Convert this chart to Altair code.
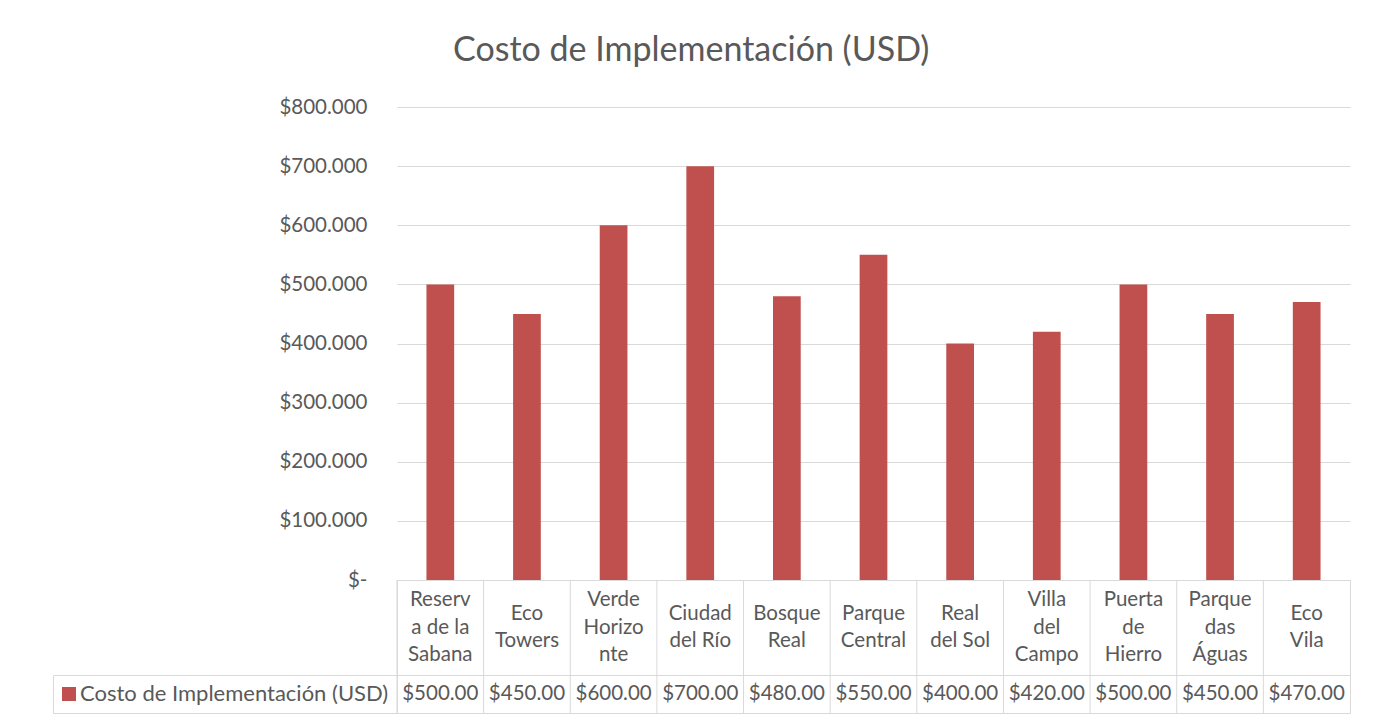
import altair as alt
import pandas as pd

# ---- data ----
categories = [
    "Reserva de la Sabana", "Eco Towers", "Verde Horizonte", "Ciudad del Río",
    "Bosque Real", "Parque Central", "Real del Sol", "Villa del Campo",
    "Puerta de Hierro", "Parque das Águas", "Eco Vila",
]
header_lines = [
    "Reserv\na de la\nSabana", "Eco\nTowers", "Verde\nHorizo\nnte", "Ciudad\ndel Río",
    "Bosque\nReal", "Parque\nCentral", "Real\ndel Sol", "Villa\ndel\nCampo",
    "Puerta\nde\nHierro", "Parque\ndas\nÁguas", "Eco\nVila",
]
values = [500000, 450000, 600000, 700000, 480000, 550000, 400000, 420000, 500000, 450000, 470000]
series_name = "Costo de Implementación (USD)"
y_ticks = [0, 100000, 200000, 300000, 400000, 500000, 600000, 700000, 800000]

table_labels = ["$%d.00" % (v // 1000) for v in values]

df = pd.DataFrame({
    "cat": categories,
    "header": header_lines,
    "value": values,
    "vlabel": table_labels,
    "serie": [series_name] * len(categories),
})

FONT = "Lato"
TXT = "#595959"
GRID = "#D9D9D9"
BAR = "#C0504D"
W = 953
LH = 27.5

xscale = alt.Scale(domain=categories, paddingInner=0, paddingOuter=0)


def xenc(**kw):
    return alt.X("cat:N", sort=categories, scale=xscale, axis=None, **kw)


base = alt.Chart(df)

bars = base.mark_bar(color=BAR, width=alt.RelativeBandSize(0.32)).encode(
    x=xenc(),
    y=alt.Y(
        "value:Q",
        scale=alt.Scale(domain=[0, 800000], nice=False),
        axis=alt.Axis(
            values=y_ticks,
            title=None,
            domain=False,
            ticks=False,
            tickSize=0,
            labelPadding=30,
            labelFont=FONT,
            labelFontSize=20.5,
            labelColor=TXT,
            gridColor=GRID,
            gridWidth=1,
            labelExpr="datum.value == 0 ? '$-' : '$' + format(datum.value / 1000, 'd') + '.000'",
        ),
    ),
).properties(width=W, height=473)

view_box = alt.ViewBackground(stroke=GRID, strokeWidth=1)

head_base = base.transform_calculate(nlines="length(split(datum.header, '\\n'))")
head_rules = base.mark_rule(color=GRID, strokeWidth=1).encode(x=xenc(bandPosition=0))
text_style = dict(lineBreak="\n", font=FONT, fontSize=20.5, lineHeight=LH, color=TXT, baseline="middle")
head_text3 = head_base.transform_filter("datum.nlines == 3").mark_text(
    dy=-LH, **text_style
).encode(x=xenc(), text="header:N")
head_text2 = head_base.transform_filter("datum.nlines == 2").mark_text(
    dy=-LH / 2, **text_style
).encode(x=xenc(), text="header:N")
header = alt.layer(head_rules, head_text3, head_text2).properties(width=W, height=95, view=view_box)

val_rules = base.mark_rule(color=GRID, strokeWidth=1).encode(x=xenc(bandPosition=0))
val_text = base.mark_text(font=FONT, fontSize=20.5, color=TXT, baseline="middle").encode(
    x=xenc(), text="vlabel:N"
)
legend_key = base.mark_square(opacity=0).encode(
    color=alt.Color(
        "serie:N",
        scale=alt.Scale(range=[BAR]),
        legend=alt.Legend(
            orient="left",
            title=None,
            offset=0,
            padding=8,
            strokeColor=GRID,
            symbolType="square",
            symbolSize=196,
            symbolOpacity=1,
            symbolStrokeWidth=0,
            symbolOffset=-3,
            labelFont=FONT,
            labelFontSize=22,
            labelColor=TXT,
            labelOffset=0,
            labelLimit=500,
        ),
    )
)
valrow = alt.layer(val_rules, val_text, legend_key).properties(width=W, height=38, view=view_box)

chart = (
    alt.vconcat(bars, header, valrow, spacing=0, bounds="flush")
    .resolve_legend(color="independent")
    .properties(
        title=alt.TitleParams(
            series_name,
            font=FONT,
            fontSize=34,
            fontWeight="normal",
            color=TXT,
            anchor="middle",
            dx=-10,
            offset=29,
        ),
        padding={"left": 44, "top": 26, "right": 10, "bottom": 4},
    )
    .configure_view(strokeWidth=0)
)

chart.save("out.html", embed_options={"renderer": "svg", "actions": False})
